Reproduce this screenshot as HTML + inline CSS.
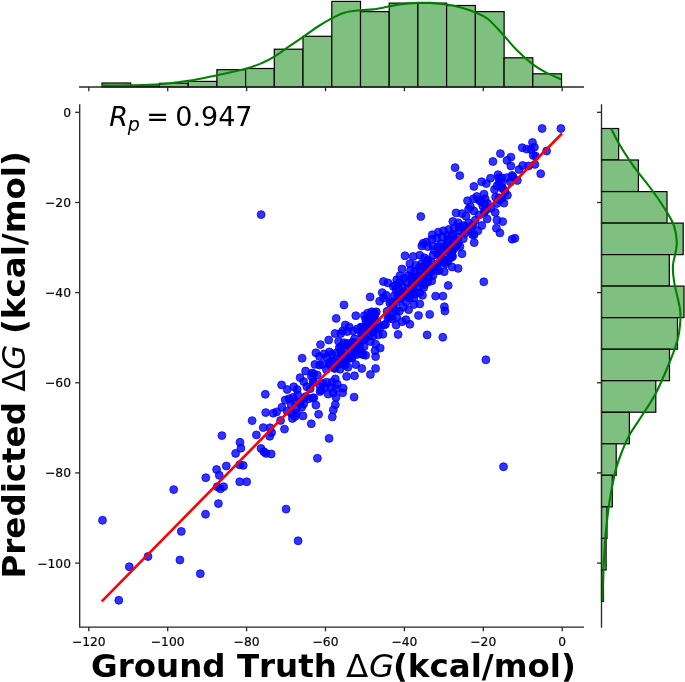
<!DOCTYPE html>
<html><head><meta charset="utf-8"><title>Predicted vs Ground Truth</title>
<style>html,body{margin:0;padding:0;background:#fff}svg{display:block}text{font-family:"DejaVu Sans","Liberation Sans",sans-serif;fill:#000;font-kerning:none;font-variant-ligatures:none}</style></head><body>
<svg width="685" height="682" viewBox="0 0 685 682">
<rect width="685" height="682" fill="#fff"/>
<g fill="#7fbf7f" stroke="#000" stroke-width="1.2">
<rect x="102.0" y="83.0" width="28.72" height="4.0"/>
<rect x="130.7" y="86.0" width="28.72" height="1.0"/>
<rect x="159.4" y="83.3" width="28.72" height="3.7"/>
<rect x="188.2" y="81.4" width="28.72" height="5.6"/>
<rect x="216.9" y="69.7" width="28.72" height="17.3"/>
<rect x="245.6" y="68.5" width="28.72" height="18.5"/>
<rect x="274.3" y="49.2" width="28.72" height="37.8"/>
<rect x="303.0" y="36.3" width="28.72" height="50.7"/>
<rect x="331.8" y="1.4" width="28.72" height="85.6"/>
<rect x="360.5" y="11.6" width="28.72" height="75.4"/>
<rect x="389.2" y="3.1" width="28.72" height="83.9"/>
<rect x="417.9" y="3.1" width="28.72" height="83.9"/>
<rect x="446.6" y="5.5" width="28.72" height="81.5"/>
<rect x="475.4" y="11.6" width="28.72" height="75.4"/>
<rect x="504.1" y="57.8" width="28.72" height="29.2"/>
<rect x="532.8" y="73.8" width="28.72" height="13.2"/>
</g>
<path d="M102.0,85.4C106.9,85.4 121.6,85.6 131.2,85.4C140.8,85.2 150.1,85.1 159.7,84.3C169.2,83.6 178.9,82.4 188.5,80.9C198.1,79.4 207.4,77.2 217.0,75.2C226.6,73.2 238.3,70.7 245.8,68.7C253.3,66.7 257.2,65.0 262.0,63.0C266.8,61.0 269.9,59.3 274.3,56.6C278.8,53.9 283.9,49.9 288.7,46.7C293.4,43.5 298.1,40.5 302.8,37.2C307.6,33.9 312.5,30.1 317.2,27.0C321.9,23.9 326.6,21.0 331.2,18.6C335.8,16.2 339.7,14.1 344.5,12.7C349.3,11.3 355.2,10.8 360.0,10.2C364.8,9.7 368.2,10.0 373.0,9.4C377.8,8.8 383.9,7.4 388.7,6.5C393.5,5.6 397.0,4.7 401.8,4.1C406.6,3.5 412.9,3.1 417.7,2.9C422.5,2.7 425.6,2.6 430.4,2.9C435.2,3.2 441.6,3.8 446.7,4.5C451.8,5.2 456.3,6.1 461.0,7.4C465.7,8.7 470.6,10.4 475.0,12.3C479.4,14.2 482.8,15.0 487.6,18.8C492.4,22.6 498.8,30.1 503.6,35.2C508.4,40.3 511.4,44.7 516.2,49.5C521.0,54.3 527.4,60.1 532.2,63.8C537.0,67.5 540.1,69.3 544.9,71.9C549.7,74.5 558.5,78.1 561.2,79.3" fill="none" stroke="#008000" stroke-width="2.1"/>
<g fill="#7fbf7f" stroke="#000" stroke-width="1.2">
<rect x="601.5" y="128.5" width="17.1" height="31.53"/>
<rect x="601.5" y="160.0" width="36.9" height="31.53"/>
<rect x="601.5" y="191.6" width="65.5" height="31.53"/>
<rect x="601.5" y="223.1" width="81.7" height="31.53"/>
<rect x="601.5" y="254.6" width="67.8" height="31.53"/>
<rect x="601.5" y="286.1" width="82.5" height="31.53"/>
<rect x="601.5" y="317.7" width="76.0" height="31.53"/>
<rect x="601.5" y="349.2" width="68.0" height="31.53"/>
<rect x="601.5" y="380.7" width="54.3" height="31.53"/>
<rect x="601.5" y="412.3" width="27.9" height="31.53"/>
<rect x="601.5" y="443.8" width="14.7" height="31.53"/>
<rect x="601.5" y="475.3" width="10.8" height="31.53"/>
<rect x="601.5" y="506.9" width="5.5" height="31.53"/>
<rect x="601.5" y="538.4" width="4.6" height="31.53"/>
<rect x="601.5" y="569.9" width="2.0" height="31.53"/>
</g>
<path d="M611.1,128.4C612.4,130.8 615.7,137.9 618.6,143.0C621.5,148.1 625.2,153.9 628.5,158.8C631.8,163.8 634.4,167.4 638.4,172.7C642.4,178.0 647.5,183.9 652.3,190.5C657.1,197.1 663.4,206.4 667.0,212.3C670.6,218.2 672.5,221.2 674.1,226.1C675.7,231.0 676.6,237.4 676.8,242.0C677.0,246.6 675.9,250.0 675.3,253.9C674.6,257.9 673.1,261.1 672.9,265.7C672.7,270.3 672.9,274.3 674.1,281.6C675.3,288.9 679.0,302.1 680.0,309.3C681.0,316.6 680.4,319.9 680.0,325.1C679.6,330.3 679.1,334.3 677.4,340.5C675.6,346.7 673.1,353.7 669.5,362.5C665.9,371.3 660.3,384.5 655.8,393.3C651.2,402.1 646.6,408.3 642.2,415.3C637.8,422.3 632.7,429.2 629.4,435.1C626.1,441.0 624.6,445.0 622.4,450.5C620.2,456.0 617.9,462.2 616.2,468.1C614.5,474.0 613.5,479.8 612.3,485.7C611.1,491.6 610.1,497.4 609.2,503.3C608.3,509.2 607.7,515.0 607.0,520.9C606.3,526.8 605.7,531.9 605.2,538.5C604.7,545.1 604.3,553.2 603.9,560.5C603.5,567.8 603.2,575.7 603.0,582.5C602.8,589.3 602.7,598.2 602.6,601.4" fill="none" stroke="#008000" stroke-width="2.1"/>
<g stroke="#262626" stroke-width="1.3" fill="none" stroke-linecap="square">
<path d="M79.7,104.8V627.1H583.4"/>
<path d="M79.7,87.0H583.4"/>
<path d="M601.5,104.8V627.1"/>
</g>
<g stroke="#262626" stroke-width="1.3" fill="none">
<path d="M88.8,627.1v4.2"/>
<path d="M88.8,87.0v4.2"/>
<path d="M167.7,627.1v4.2"/>
<path d="M167.7,87.0v4.2"/>
<path d="M246.6,627.1v4.2"/>
<path d="M246.6,87.0v4.2"/>
<path d="M325.5,627.1v4.2"/>
<path d="M325.5,87.0v4.2"/>
<path d="M404.4,627.1v4.2"/>
<path d="M404.4,87.0v4.2"/>
<path d="M483.3,627.1v4.2"/>
<path d="M483.3,87.0v4.2"/>
<path d="M562.2,627.1v4.2"/>
<path d="M562.2,87.0v4.2"/>
<path d="M79.7,563.1h-4.5"/>
<path d="M601.5,563.1h-4.5"/>
<path d="M79.7,472.9h-4.5"/>
<path d="M601.5,472.9h-4.5"/>
<path d="M79.7,382.8h-4.5"/>
<path d="M601.5,382.8h-4.5"/>
<path d="M79.7,292.6h-4.5"/>
<path d="M601.5,292.6h-4.5"/>
<path d="M79.7,202.5h-4.5"/>
<path d="M601.5,202.5h-4.5"/>
<path d="M79.7,112.3h-4.5"/>
<path d="M601.5,112.3h-4.5"/>
</g>
<g fill="#0000ff" fill-opacity="0.8" stroke="#0000ff" stroke-opacity="0.8" stroke-width="1">
<circle cx="388.0" cy="282.9" r="3.95"/>
<circle cx="395.3" cy="285.4" r="3.95"/>
<circle cx="399.4" cy="282.2" r="3.95"/>
<circle cx="396.7" cy="279.8" r="3.95"/>
<circle cx="393.3" cy="286.3" r="3.95"/>
<circle cx="470.4" cy="206.7" r="3.95"/>
<circle cx="498.9" cy="177.9" r="3.95"/>
<circle cx="495.6" cy="197.1" r="3.95"/>
<circle cx="499.5" cy="199.8" r="3.95"/>
<circle cx="478.8" cy="199.8" r="3.95"/>
<circle cx="502.0" cy="187.6" r="3.95"/>
<circle cx="311.4" cy="376.3" r="3.95"/>
<circle cx="313.7" cy="373.9" r="3.95"/>
<circle cx="320.0" cy="391.5" r="3.95"/>
<circle cx="313.4" cy="381.5" r="3.95"/>
<circle cx="304.4" cy="397.6" r="3.95"/>
<circle cx="306.0" cy="396.5" r="3.95"/>
<circle cx="329.9" cy="364.8" r="3.95"/>
<circle cx="310.2" cy="388.7" r="3.95"/>
<circle cx="308.5" cy="398.9" r="3.95"/>
<circle cx="313.8" cy="397.8" r="3.95"/>
<circle cx="326.4" cy="369.4" r="3.95"/>
<circle cx="321.2" cy="390.3" r="3.95"/>
<circle cx="347.5" cy="343.5" r="3.95"/>
<circle cx="352.4" cy="356.6" r="3.95"/>
<circle cx="344.7" cy="357.6" r="3.95"/>
<circle cx="353.4" cy="342.3" r="3.95"/>
<circle cx="333.2" cy="361.9" r="3.95"/>
<circle cx="358.4" cy="345.6" r="3.95"/>
<circle cx="341.6" cy="362.8" r="3.95"/>
<circle cx="340.3" cy="357.6" r="3.95"/>
<circle cx="339.2" cy="347.9" r="3.95"/>
<circle cx="350.6" cy="345.8" r="3.95"/>
<circle cx="343.1" cy="363.9" r="3.95"/>
<circle cx="336.6" cy="365.0" r="3.95"/>
<circle cx="357.8" cy="344.9" r="3.95"/>
<circle cx="346.0" cy="355.7" r="3.95"/>
<circle cx="360.4" cy="350.4" r="3.95"/>
<circle cx="344.7" cy="357.1" r="3.95"/>
<circle cx="334.4" cy="368.2" r="3.95"/>
<circle cx="341.6" cy="361.6" r="3.95"/>
<circle cx="339.2" cy="362.6" r="3.95"/>
<circle cx="348.1" cy="359.1" r="3.95"/>
<circle cx="372.3" cy="319.3" r="3.95"/>
<circle cx="372.4" cy="320.0" r="3.95"/>
<circle cx="370.2" cy="327.5" r="3.95"/>
<circle cx="362.3" cy="333.6" r="3.95"/>
<circle cx="364.1" cy="346.7" r="3.95"/>
<circle cx="374.9" cy="314.8" r="3.95"/>
<circle cx="366.7" cy="322.6" r="3.95"/>
<circle cx="368.3" cy="330.5" r="3.95"/>
<circle cx="373.3" cy="331.9" r="3.95"/>
<circle cx="387.9" cy="318.2" r="3.95"/>
<circle cx="361.1" cy="327.0" r="3.95"/>
<circle cx="361.4" cy="333.9" r="3.95"/>
<circle cx="374.1" cy="312.5" r="3.95"/>
<circle cx="377.3" cy="327.7" r="3.95"/>
<circle cx="387.1" cy="311.3" r="3.95"/>
<circle cx="384.2" cy="324.9" r="3.95"/>
<circle cx="367.6" cy="319.1" r="3.95"/>
<circle cx="363.6" cy="339.6" r="3.95"/>
<circle cx="408.8" cy="295.8" r="3.95"/>
<circle cx="416.2" cy="280.0" r="3.95"/>
<circle cx="411.2" cy="277.6" r="3.95"/>
<circle cx="402.3" cy="294.0" r="3.95"/>
<circle cx="411.7" cy="285.7" r="3.95"/>
<circle cx="395.9" cy="310.6" r="3.95"/>
<circle cx="397.9" cy="295.8" r="3.95"/>
<circle cx="392.9" cy="305.3" r="3.95"/>
<circle cx="409.3" cy="298.0" r="3.95"/>
<circle cx="392.4" cy="313.0" r="3.95"/>
<circle cx="405.9" cy="295.5" r="3.95"/>
<circle cx="400.3" cy="299.3" r="3.95"/>
<circle cx="389.5" cy="317.5" r="3.95"/>
<circle cx="397.9" cy="288.3" r="3.95"/>
<circle cx="407.7" cy="294.3" r="3.95"/>
<circle cx="414.6" cy="278.6" r="3.95"/>
<circle cx="396.3" cy="302.7" r="3.95"/>
<circle cx="416.8" cy="279.5" r="3.95"/>
<circle cx="389.8" cy="303.2" r="3.95"/>
<circle cx="403.5" cy="291.5" r="3.95"/>
<circle cx="425.3" cy="266.4" r="3.95"/>
<circle cx="437.1" cy="264.6" r="3.95"/>
<circle cx="418.9" cy="276.8" r="3.95"/>
<circle cx="427.6" cy="261.4" r="3.95"/>
<circle cx="423.6" cy="278.9" r="3.95"/>
<circle cx="440.8" cy="256.2" r="3.95"/>
<circle cx="423.8" cy="266.3" r="3.95"/>
<circle cx="445.8" cy="247.1" r="3.95"/>
<circle cx="424.5" cy="284.4" r="3.95"/>
<circle cx="424.3" cy="273.8" r="3.95"/>
<circle cx="445.3" cy="246.7" r="3.95"/>
<circle cx="432.2" cy="267.3" r="3.95"/>
<circle cx="429.9" cy="272.0" r="3.95"/>
<circle cx="437.0" cy="264.0" r="3.95"/>
<circle cx="429.2" cy="267.3" r="3.95"/>
<circle cx="424.0" cy="277.3" r="3.95"/>
<circle cx="419.4" cy="277.9" r="3.95"/>
<circle cx="419.6" cy="267.3" r="3.95"/>
<circle cx="443.3" cy="262.8" r="3.95"/>
<circle cx="439.0" cy="270.6" r="3.95"/>
<circle cx="456.1" cy="240.9" r="3.95"/>
<circle cx="452.0" cy="255.2" r="3.95"/>
<circle cx="447.6" cy="245.6" r="3.95"/>
<circle cx="465.7" cy="226.8" r="3.95"/>
<circle cx="456.2" cy="245.4" r="3.95"/>
<circle cx="451.5" cy="251.1" r="3.95"/>
<circle cx="456.7" cy="240.6" r="3.95"/>
<circle cx="474.1" cy="234.8" r="3.95"/>
<circle cx="452.6" cy="256.5" r="3.95"/>
<circle cx="456.9" cy="245.6" r="3.95"/>
<circle cx="459.1" cy="227.3" r="3.95"/>
<circle cx="448.1" cy="243.1" r="3.95"/>
<circle cx="473.0" cy="225.0" r="3.95"/>
<circle cx="452.2" cy="236.0" r="3.95"/>
<circle cx="447.5" cy="260.3" r="3.95"/>
<circle cx="458.4" cy="243.0" r="3.95"/>
<circle cx="447.8" cy="239.3" r="3.95"/>
<circle cx="447.6" cy="261.7" r="3.95"/>
<circle cx="454.0" cy="248.9" r="3.95"/>
<circle cx="496.8" cy="203.5" r="3.95"/>
<circle cx="502.9" cy="188.8" r="3.95"/>
<circle cx="484.4" cy="211.2" r="3.95"/>
<circle cx="501.7" cy="183.4" r="3.95"/>
<circle cx="482.1" cy="201.7" r="3.95"/>
<circle cx="486.5" cy="209.2" r="3.95"/>
<circle cx="502.0" cy="198.3" r="3.95"/>
<circle cx="499.0" cy="197.8" r="3.95"/>
<circle cx="484.5" cy="203.9" r="3.95"/>
<circle cx="344.0" cy="304.9" r="3.95"/>
<circle cx="370.1" cy="296.9" r="3.95"/>
<circle cx="355.8" cy="315.7" r="3.95"/>
<circle cx="418.5" cy="315.5" r="3.95"/>
<circle cx="419.8" cy="303.9" r="3.95"/>
<circle cx="422.5" cy="295.3" r="3.95"/>
<circle cx="429.7" cy="314.4" r="3.95"/>
<circle cx="427.1" cy="334.9" r="3.95"/>
<circle cx="398.1" cy="334.5" r="3.95"/>
<circle cx="409.9" cy="324.3" r="3.95"/>
<circle cx="406.0" cy="319.7" r="3.95"/>
<circle cx="402.0" cy="321.7" r="3.95"/>
<circle cx="396.1" cy="325.0" r="3.95"/>
<circle cx="385.5" cy="324.3" r="3.95"/>
<circle cx="392.1" cy="319.0" r="3.95"/>
<circle cx="396.7" cy="317.1" r="3.95"/>
<circle cx="379.6" cy="301.2" r="3.95"/>
<circle cx="382.2" cy="292.6" r="3.95"/>
<circle cx="383.5" cy="297.9" r="3.95"/>
<circle cx="396.1" cy="290.0" r="3.95"/>
<circle cx="394.1" cy="295.9" r="3.95"/>
<circle cx="391.5" cy="301.9" r="3.95"/>
<circle cx="386.2" cy="295.3" r="3.95"/>
<circle cx="413.9" cy="297.9" r="3.95"/>
<circle cx="411.3" cy="292.6" r="3.95"/>
<circle cx="413.9" cy="304.5" r="3.95"/>
<circle cx="408.6" cy="309.8" r="3.95"/>
<circle cx="403.3" cy="307.2" r="3.95"/>
<circle cx="399.4" cy="311.1" r="3.95"/>
<circle cx="406.0" cy="301.9" r="3.95"/>
<circle cx="400.7" cy="297.9" r="3.95"/>
<circle cx="364.4" cy="315.7" r="3.95"/>
<circle cx="367.7" cy="313.1" r="3.95"/>
<circle cx="371.7" cy="311.8" r="3.95"/>
<circle cx="376.3" cy="311.8" r="3.95"/>
<circle cx="365.7" cy="319.7" r="3.95"/>
<circle cx="370.4" cy="317.7" r="3.95"/>
<circle cx="374.3" cy="316.4" r="3.95"/>
<circle cx="369.0" cy="323.0" r="3.95"/>
<circle cx="373.0" cy="321.7" r="3.95"/>
<circle cx="376.9" cy="321.7" r="3.95"/>
<circle cx="366.4" cy="327.6" r="3.95"/>
<circle cx="379.6" cy="328.3" r="3.95"/>
<circle cx="374.3" cy="329.6" r="3.95"/>
<circle cx="382.9" cy="334.2" r="3.95"/>
<circle cx="378.3" cy="334.9" r="3.95"/>
<circle cx="373.0" cy="336.2" r="3.95"/>
<circle cx="368.4" cy="336.2" r="3.95"/>
<circle cx="365.1" cy="338.8" r="3.95"/>
<circle cx="370.4" cy="341.5" r="3.95"/>
<circle cx="375.6" cy="344.1" r="3.95"/>
<circle cx="380.2" cy="348.1" r="3.95"/>
<circle cx="375.0" cy="350.7" r="3.95"/>
<circle cx="375.6" cy="356.6" r="3.95"/>
<circle cx="345.3" cy="325.0" r="3.95"/>
<circle cx="349.2" cy="326.9" r="3.95"/>
<circle cx="342.6" cy="330.9" r="3.95"/>
<circle cx="347.3" cy="331.6" r="3.95"/>
<circle cx="353.2" cy="330.9" r="3.95"/>
<circle cx="357.2" cy="328.9" r="3.95"/>
<circle cx="361.1" cy="327.6" r="3.95"/>
<circle cx="354.5" cy="338.8" r="3.95"/>
<circle cx="351.9" cy="342.8" r="3.95"/>
<circle cx="347.9" cy="345.4" r="3.95"/>
<circle cx="344.0" cy="342.8" r="3.95"/>
<circle cx="340.7" cy="346.7" r="3.95"/>
<circle cx="345.3" cy="350.7" r="3.95"/>
<circle cx="350.6" cy="352.0" r="3.95"/>
<circle cx="354.5" cy="350.7" r="3.95"/>
<circle cx="359.8" cy="353.3" r="3.95"/>
<circle cx="363.1" cy="354.7" r="3.95"/>
<circle cx="365.7" cy="355.3" r="3.95"/>
<circle cx="341.3" cy="354.7" r="3.95"/>
<circle cx="346.6" cy="358.6" r="3.95"/>
<circle cx="351.9" cy="358.0" r="3.95"/>
<circle cx="355.8" cy="364.6" r="3.95"/>
<circle cx="347.9" cy="367.2" r="3.95"/>
<circle cx="342.6" cy="363.9" r="3.95"/>
<circle cx="361.8" cy="368.5" r="3.95"/>
<circle cx="375.6" cy="368.5" r="3.95"/>
<circle cx="370.4" cy="374.5" r="3.95"/>
<circle cx="354.5" cy="375.8" r="3.95"/>
<circle cx="346.6" cy="376.4" r="3.95"/>
<circle cx="340.0" cy="369.2" r="3.95"/>
<circle cx="420.8" cy="216.5" r="3.95"/>
<circle cx="483.8" cy="281.8" r="3.95"/>
<circle cx="448.2" cy="285.5" r="3.95"/>
<circle cx="435.6" cy="296.1" r="3.95"/>
<circle cx="442.9" cy="296.1" r="3.95"/>
<circle cx="458.1" cy="268.4" r="3.95"/>
<circle cx="452.1" cy="267.0" r="3.95"/>
<circle cx="444.2" cy="271.7" r="3.95"/>
<circle cx="445.5" cy="263.7" r="3.95"/>
<circle cx="462.0" cy="253.8" r="3.95"/>
<circle cx="460.0" cy="246.6" r="3.95"/>
<circle cx="474.2" cy="242.6" r="3.95"/>
<circle cx="472.6" cy="234.7" r="3.95"/>
<circle cx="477.9" cy="230.8" r="3.95"/>
<circle cx="481.8" cy="225.5" r="3.95"/>
<circle cx="487.1" cy="218.9" r="3.95"/>
<circle cx="484.5" cy="212.3" r="3.95"/>
<circle cx="479.2" cy="214.9" r="3.95"/>
<circle cx="475.2" cy="220.2" r="3.95"/>
<circle cx="468.6" cy="209.0" r="3.95"/>
<circle cx="473.9" cy="211.0" r="3.95"/>
<circle cx="456.1" cy="212.9" r="3.95"/>
<circle cx="462.0" cy="213.6" r="3.95"/>
<circle cx="466.0" cy="216.2" r="3.95"/>
<circle cx="452.8" cy="221.5" r="3.95"/>
<circle cx="458.1" cy="222.8" r="3.95"/>
<circle cx="463.3" cy="225.5" r="3.95"/>
<circle cx="468.6" cy="222.8" r="3.95"/>
<circle cx="454.1" cy="228.1" r="3.95"/>
<circle cx="459.4" cy="230.8" r="3.95"/>
<circle cx="464.7" cy="233.4" r="3.95"/>
<circle cx="468.6" cy="230.8" r="3.95"/>
<circle cx="471.3" cy="226.8" r="3.95"/>
<circle cx="432.3" cy="234.7" r="3.95"/>
<circle cx="438.3" cy="232.1" r="3.95"/>
<circle cx="443.5" cy="230.8" r="3.95"/>
<circle cx="448.8" cy="229.4" r="3.95"/>
<circle cx="431.7" cy="239.3" r="3.95"/>
<circle cx="436.9" cy="238.0" r="3.95"/>
<circle cx="442.2" cy="236.7" r="3.95"/>
<circle cx="447.5" cy="235.4" r="3.95"/>
<circle cx="452.8" cy="234.1" r="3.95"/>
<circle cx="458.1" cy="237.4" r="3.95"/>
<circle cx="452.8" cy="240.0" r="3.95"/>
<circle cx="447.5" cy="241.3" r="3.95"/>
<circle cx="463.3" cy="238.7" r="3.95"/>
<circle cx="456.7" cy="243.9" r="3.95"/>
<circle cx="423.1" cy="243.3" r="3.95"/>
<circle cx="426.4" cy="242.0" r="3.95"/>
<circle cx="421.8" cy="245.9" r="3.95"/>
<circle cx="427.7" cy="246.6" r="3.95"/>
<circle cx="433.0" cy="245.9" r="3.95"/>
<circle cx="438.3" cy="246.6" r="3.95"/>
<circle cx="440.9" cy="243.9" r="3.95"/>
<circle cx="434.3" cy="250.5" r="3.95"/>
<circle cx="439.6" cy="250.5" r="3.95"/>
<circle cx="443.5" cy="247.9" r="3.95"/>
<circle cx="433.0" cy="255.2" r="3.95"/>
<circle cx="437.6" cy="254.5" r="3.95"/>
<circle cx="448.8" cy="250.5" r="3.95"/>
<circle cx="452.1" cy="251.9" r="3.95"/>
<circle cx="450.8" cy="257.8" r="3.95"/>
<circle cx="446.2" cy="257.1" r="3.95"/>
<circle cx="442.2" cy="259.1" r="3.95"/>
<circle cx="405.0" cy="255.8" r="3.95"/>
<circle cx="413.2" cy="256.5" r="3.95"/>
<circle cx="419.8" cy="255.2" r="3.95"/>
<circle cx="424.4" cy="257.8" r="3.95"/>
<circle cx="427.7" cy="259.8" r="3.95"/>
<circle cx="409.9" cy="263.7" r="3.95"/>
<circle cx="415.8" cy="265.1" r="3.95"/>
<circle cx="421.8" cy="263.7" r="3.95"/>
<circle cx="426.4" cy="265.1" r="3.95"/>
<circle cx="431.7" cy="262.4" r="3.95"/>
<circle cx="402.0" cy="269.0" r="3.95"/>
<circle cx="410.6" cy="270.3" r="3.95"/>
<circle cx="414.5" cy="271.7" r="3.95"/>
<circle cx="419.8" cy="270.3" r="3.95"/>
<circle cx="425.1" cy="271.7" r="3.95"/>
<circle cx="430.4" cy="269.0" r="3.95"/>
<circle cx="435.6" cy="266.4" r="3.95"/>
<circle cx="436.9" cy="270.3" r="3.95"/>
<circle cx="433.0" cy="275.6" r="3.95"/>
<circle cx="428.4" cy="276.9" r="3.95"/>
<circle cx="423.8" cy="278.3" r="3.95"/>
<circle cx="418.5" cy="275.6" r="3.95"/>
<circle cx="413.2" cy="276.9" r="3.95"/>
<circle cx="407.9" cy="275.6" r="3.95"/>
<circle cx="404.0" cy="278.3" r="3.95"/>
<circle cx="400.0" cy="275.6" r="3.95"/>
<circle cx="406.6" cy="282.2" r="3.95"/>
<circle cx="411.9" cy="283.5" r="3.95"/>
<circle cx="417.2" cy="282.2" r="3.95"/>
<circle cx="422.4" cy="283.5" r="3.95"/>
<circle cx="427.7" cy="282.2" r="3.95"/>
<circle cx="431.7" cy="280.9" r="3.95"/>
<circle cx="402.6" cy="286.2" r="3.95"/>
<circle cx="407.9" cy="288.8" r="3.95"/>
<circle cx="413.2" cy="288.8" r="3.95"/>
<circle cx="418.5" cy="287.5" r="3.95"/>
<circle cx="423.8" cy="287.5" r="3.95"/>
<circle cx="419.8" cy="292.8" r="3.95"/>
<circle cx="414.5" cy="294.1" r="3.95"/>
<circle cx="404.0" cy="292.8" r="3.95"/>
<circle cx="302.1" cy="358.2" r="3.95"/>
<circle cx="320.5" cy="344.6" r="3.95"/>
<circle cx="328.7" cy="340.0" r="3.95"/>
<circle cx="315.9" cy="352.8" r="3.95"/>
<circle cx="314.9" cy="364.4" r="3.95"/>
<circle cx="319.5" cy="365.1" r="3.95"/>
<circle cx="322.1" cy="364.4" r="3.95"/>
<circle cx="319.5" cy="356.5" r="3.95"/>
<circle cx="324.1" cy="353.9" r="3.95"/>
<circle cx="329.4" cy="351.9" r="3.95"/>
<circle cx="326.7" cy="357.2" r="3.95"/>
<circle cx="332.0" cy="354.5" r="3.95"/>
<circle cx="336.0" cy="353.2" r="3.95"/>
<circle cx="338.6" cy="341.3" r="3.95"/>
<circle cx="355.8" cy="347.9" r="3.95"/>
<circle cx="359.7" cy="344.0" r="3.95"/>
<circle cx="341.3" cy="351.9" r="3.95"/>
<circle cx="345.2" cy="355.8" r="3.95"/>
<circle cx="357.1" cy="354.5" r="3.95"/>
<circle cx="329.4" cy="362.4" r="3.95"/>
<circle cx="333.3" cy="361.1" r="3.95"/>
<circle cx="337.3" cy="363.8" r="3.95"/>
<circle cx="345.2" cy="365.1" r="3.95"/>
<circle cx="334.7" cy="368.4" r="3.95"/>
<circle cx="305.6" cy="371.0" r="3.95"/>
<circle cx="312.2" cy="373.0" r="3.95"/>
<circle cx="317.2" cy="375.0" r="3.95"/>
<circle cx="300.1" cy="377.6" r="3.95"/>
<circle cx="303.7" cy="381.6" r="3.95"/>
<circle cx="313.5" cy="382.2" r="3.95"/>
<circle cx="306.9" cy="386.8" r="3.95"/>
<circle cx="297.1" cy="389.5" r="3.95"/>
<circle cx="293.8" cy="386.8" r="3.95"/>
<circle cx="287.2" cy="389.5" r="3.95"/>
<circle cx="281.6" cy="384.9" r="3.95"/>
<circle cx="335.3" cy="378.9" r="3.95"/>
<circle cx="332.0" cy="382.2" r="3.95"/>
<circle cx="337.3" cy="384.2" r="3.95"/>
<circle cx="326.7" cy="382.2" r="3.95"/>
<circle cx="322.8" cy="383.5" r="3.95"/>
<circle cx="320.1" cy="386.2" r="3.95"/>
<circle cx="325.4" cy="387.5" r="3.95"/>
<circle cx="330.7" cy="387.5" r="3.95"/>
<circle cx="336.0" cy="388.8" r="3.95"/>
<circle cx="343.2" cy="388.2" r="3.95"/>
<circle cx="342.6" cy="392.8" r="3.95"/>
<circle cx="333.3" cy="392.8" r="3.95"/>
<circle cx="328.1" cy="394.1" r="3.95"/>
<circle cx="336.0" cy="397.4" r="3.95"/>
<circle cx="354.1" cy="397.1" r="3.95"/>
<circle cx="335.3" cy="404.7" r="3.95"/>
<circle cx="333.3" cy="409.9" r="3.95"/>
<circle cx="332.3" cy="416.9" r="3.95"/>
<circle cx="318.6" cy="414.3" r="3.95"/>
<circle cx="315.9" cy="405.1" r="3.95"/>
<circle cx="312.9" cy="398.1" r="3.95"/>
<circle cx="311.3" cy="423.8" r="3.95"/>
<circle cx="297.7" cy="394.8" r="3.95"/>
<circle cx="293.1" cy="397.4" r="3.95"/>
<circle cx="289.1" cy="398.7" r="3.95"/>
<circle cx="285.2" cy="400.0" r="3.95"/>
<circle cx="295.1" cy="402.0" r="3.95"/>
<circle cx="300.4" cy="402.0" r="3.95"/>
<circle cx="303.7" cy="404.0" r="3.95"/>
<circle cx="301.7" cy="407.3" r="3.95"/>
<circle cx="296.4" cy="408.6" r="3.95"/>
<circle cx="291.1" cy="404.7" r="3.95"/>
<circle cx="281.9" cy="407.3" r="3.95"/>
<circle cx="276.6" cy="411.9" r="3.95"/>
<circle cx="273.3" cy="413.2" r="3.95"/>
<circle cx="287.2" cy="411.3" r="3.95"/>
<circle cx="291.8" cy="413.9" r="3.95"/>
<circle cx="296.4" cy="413.2" r="3.95"/>
<circle cx="303.0" cy="415.9" r="3.95"/>
<circle cx="292.4" cy="418.5" r="3.95"/>
<circle cx="295.1" cy="416.5" r="3.95"/>
<circle cx="280.6" cy="420.5" r="3.95"/>
<circle cx="284.5" cy="429.1" r="3.95"/>
<circle cx="270.0" cy="427.8" r="3.95"/>
<circle cx="102.5" cy="520.3" r="3.95"/>
<circle cx="118.8" cy="600.3" r="3.95"/>
<circle cx="129.3" cy="566.7" r="3.95"/>
<circle cx="148.0" cy="556.5" r="3.95"/>
<circle cx="173.7" cy="489.6" r="3.95"/>
<circle cx="181.3" cy="531.4" r="3.95"/>
<circle cx="179.9" cy="560.0" r="3.95"/>
<circle cx="200.3" cy="573.7" r="3.95"/>
<circle cx="205.5" cy="514.2" r="3.95"/>
<circle cx="205.8" cy="477.7" r="3.95"/>
<circle cx="218.4" cy="503.6" r="3.95"/>
<circle cx="216.6" cy="469.5" r="3.95"/>
<circle cx="219.3" cy="475.3" r="3.95"/>
<circle cx="217.2" cy="486.7" r="3.95"/>
<circle cx="220.4" cy="488.8" r="3.95"/>
<circle cx="223.6" cy="486.7" r="3.95"/>
<circle cx="226.3" cy="466.0" r="3.95"/>
<circle cx="239.7" cy="481.8" r="3.95"/>
<circle cx="246.7" cy="481.8" r="3.95"/>
<circle cx="239.7" cy="464.8" r="3.95"/>
<circle cx="243.2" cy="465.4" r="3.95"/>
<circle cx="235.6" cy="453.4" r="3.95"/>
<circle cx="240.9" cy="448.2" r="3.95"/>
<circle cx="240.0" cy="442.3" r="3.95"/>
<circle cx="261.0" cy="448.5" r="3.95"/>
<circle cx="263.9" cy="451.7" r="3.95"/>
<circle cx="266.0" cy="453.4" r="3.95"/>
<circle cx="271.2" cy="454.0" r="3.95"/>
<circle cx="221.9" cy="435.6" r="3.95"/>
<circle cx="252.1" cy="420.6" r="3.95"/>
<circle cx="256.4" cy="434.9" r="3.95"/>
<circle cx="263.2" cy="427.6" r="3.95"/>
<circle cx="265.3" cy="394.3" r="3.95"/>
<circle cx="265.7" cy="412.6" r="3.95"/>
<circle cx="269.7" cy="436.3" r="3.95"/>
<circle cx="271.6" cy="432.5" r="3.95"/>
<circle cx="329.1" cy="438.4" r="3.95"/>
<circle cx="317.4" cy="458.3" r="3.95"/>
<circle cx="335.0" cy="333.5" r="3.95"/>
<circle cx="340.8" cy="333.5" r="3.95"/>
<circle cx="485.9" cy="359.8" r="3.95"/>
<circle cx="442.8" cy="337.3" r="3.95"/>
<circle cx="444.9" cy="311.0" r="3.95"/>
<circle cx="444.4" cy="306.8" r="3.95"/>
<circle cx="383.4" cy="281.5" r="3.95"/>
<circle cx="560.9" cy="128.5" r="3.95"/>
<circle cx="542.1" cy="128.5" r="3.95"/>
<circle cx="546.6" cy="151.0" r="3.95"/>
<circle cx="540.7" cy="173.7" r="3.95"/>
<circle cx="532.5" cy="142.5" r="3.95"/>
<circle cx="534.4" cy="147.2" r="3.95"/>
<circle cx="522.2" cy="147.7" r="3.95"/>
<circle cx="526.7" cy="149.1" r="3.95"/>
<circle cx="530.9" cy="149.6" r="3.95"/>
<circle cx="533.2" cy="155.4" r="3.95"/>
<circle cx="535.6" cy="156.1" r="3.95"/>
<circle cx="534.9" cy="164.4" r="3.95"/>
<circle cx="528.5" cy="166.0" r="3.95"/>
<circle cx="522.7" cy="165.5" r="3.95"/>
<circle cx="519.1" cy="169.5" r="3.95"/>
<circle cx="500.4" cy="153.6" r="3.95"/>
<circle cx="492.9" cy="161.5" r="3.95"/>
<circle cx="510.9" cy="157.1" r="3.95"/>
<circle cx="507.0" cy="160.4" r="3.95"/>
<circle cx="510.9" cy="166.0" r="3.95"/>
<circle cx="455.1" cy="167.6" r="3.95"/>
<circle cx="459.8" cy="175.6" r="3.95"/>
<circle cx="517.3" cy="180.5" r="3.95"/>
<circle cx="512.1" cy="175.4" r="3.95"/>
<circle cx="498.0" cy="174.7" r="3.95"/>
<circle cx="501.6" cy="177.7" r="3.95"/>
<circle cx="490.5" cy="178.2" r="3.95"/>
<circle cx="481.6" cy="181.7" r="3.95"/>
<circle cx="486.3" cy="183.6" r="3.95"/>
<circle cx="473.9" cy="186.4" r="3.95"/>
<circle cx="499.2" cy="182.4" r="3.95"/>
<circle cx="494.5" cy="189.5" r="3.95"/>
<circle cx="496.9" cy="185.9" r="3.95"/>
<circle cx="507.4" cy="195.3" r="3.95"/>
<circle cx="503.9" cy="203.1" r="3.95"/>
<circle cx="505.1" cy="191.8" r="3.95"/>
<circle cx="467.5" cy="200.7" r="3.95"/>
<circle cx="473.4" cy="198.8" r="3.95"/>
<circle cx="476.9" cy="196.5" r="3.95"/>
<circle cx="484.0" cy="194.1" r="3.95"/>
<circle cx="480.4" cy="201.2" r="3.95"/>
<circle cx="485.1" cy="198.8" r="3.95"/>
<circle cx="482.8" cy="205.9" r="3.95"/>
<circle cx="487.5" cy="203.5" r="3.95"/>
<circle cx="491.0" cy="208.2" r="3.95"/>
<circle cx="495.2" cy="212.4" r="3.95"/>
<circle cx="496.9" cy="220.0" r="3.95"/>
<circle cx="502.7" cy="221.6" r="3.95"/>
<circle cx="496.4" cy="228.2" r="3.95"/>
<circle cx="499.9" cy="232.9" r="3.95"/>
<circle cx="512.1" cy="239.2" r="3.95"/>
<circle cx="514.9" cy="238.3" r="3.95"/>
<circle cx="261.1" cy="214.6" r="3.95"/>
<circle cx="336.2" cy="318.4" r="3.95"/>
<circle cx="503.5" cy="466.7" r="3.95"/>
<circle cx="286.1" cy="509.1" r="3.95"/>
<circle cx="298.1" cy="540.8" r="3.95"/>
<circle cx="506.9" cy="177.6" r="3.95"/>
<circle cx="513.0" cy="176.7" r="3.95"/>
<circle cx="510.4" cy="182.0" r="3.95"/>
</g>
<path d="M101.8,601.3L562.0,133.5" stroke="#ff0000" stroke-width="2.6" fill="none"/>
<g font-size="12.3px" fill="#111" stroke="#111" stroke-width="0.2">
<text x="88.8" y="645.5" text-anchor="middle">−120</text>
<text x="167.7" y="645.5" text-anchor="middle">−100</text>
<text x="246.6" y="645.5" text-anchor="middle">−80</text>
<text x="325.5" y="645.5" text-anchor="middle">−60</text>
<text x="404.4" y="645.5" text-anchor="middle">−40</text>
<text x="483.3" y="645.5" text-anchor="middle">−20</text>
<text x="562.2" y="645.5" text-anchor="middle">0</text>
<text x="71" y="567.6" text-anchor="end">−100</text>
<text x="71" y="477.4" text-anchor="end">−80</text>
<text x="71" y="387.3" text-anchor="end">−60</text>
<text x="71" y="297.1" text-anchor="end">−40</text>
<text x="71" y="207.0" text-anchor="end">−20</text>
<text x="71" y="116.8" text-anchor="end">0</text>
</g>
<text y="677" font-size="32.5px" font-weight="bold"><tspan x="91">Ground Truth</tspan><tspan x="346" font-weight="normal">Δ</tspan><tspan x="369" font-weight="normal" font-style="italic">G</tspan><tspan x="393">(kcal/mol)</tspan></text>
<text transform="translate(24.5,0) rotate(-90)" font-size="32.5px" font-weight="bold"><tspan x="-578.5">Predicted</tspan><tspan x="-391.8" font-weight="normal">Δ</tspan><tspan x="-369.8" font-weight="normal" font-style="italic">G</tspan><tspan x="-334">(kcal/mol)</tspan></text>
<text x="109.2" y="125.8" font-size="27px"><tspan font-style="italic">R</tspan><tspan font-style="italic" font-size="19px" dy="5" dx="-0.3">p</tspan><tspan dy="-5" dx="6.6">=</tspan><tspan dx="6.3">0.947</tspan></text>
</svg></body></html>
